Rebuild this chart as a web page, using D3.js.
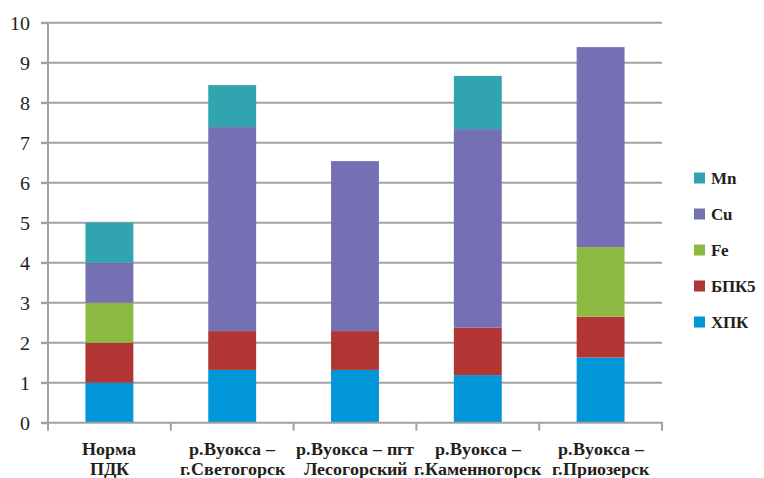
<!DOCTYPE html>
<html>
<head>
<meta charset="utf-8">
<script src="https://cdn.jsdelivr.net/npm/d3@7"></script>
<style>
  @font-face { font-family: "ChartSerif"; font-weight: normal; src: local("Liberation Serif"), local("LiberationSerif"), local("Times New Roman"); }
  @font-face { font-family: "ChartSerif"; font-weight: bold; src: local("Liberation Serif Bold"), local("LiberationSerif-Bold"), local("Times New Roman Bold"); }
</style>
</head>
<body style="margin:0">
<svg id="chart" width="764" height="478"></svg>
<script>
// Sites along the river (two-line labels)
const categories = ["Норма ПДК", "р.Вуокса – г.Светогорск", "р.Вуокса – пгт Лесогорский", "р.Вуокса – г.Каменногорск", "р.Вуокса – г.Приозерск"];
const categoryLines = [
  ["Норма", "ПДК"],
  ["р.Вуокса –", "г.Светогорск"],
  ["р.Вуокса – пгт", "Лесогорский"],
  ["р.Вуокса –", "г.Каменногорск"],
  ["р.Вуокса –", "г.Приозерск"]
];
// Stack order, bottom to top
const seriesNames = ["ХПК", "БПК5", "Fe", "Cu", "Mn"];
const hpk  = [1.00, 1.32, 1.32, 1.19, 1.63];
const bpk5 = [1.00, 0.97, 0.97, 1.19, 1.02];
const fe   = [1.00, 0.00, 0.00, 0.00, 1.74];
const cu   = [1.00, 5.10, 4.25, 4.96, 5.00];
const mn   = [1.00, 1.05, 0.00, 1.33, 0.00];
const yTicks = [0, 1, 2, 3, 4, 5, 6, 7, 8, 9, 10];
const colors = ["#0096d7", "#b03533", "#8bb942", "#7570b3", "#31a4b0"];

const textColor = "#231f20";
const serifFont = '"ChartSerif", "Liberation Serif", "Times New Roman", Tinos, serif';

const rows = categories.map((c, i) => ({
  cat: c, "ХПК": hpk[i], "БПК5": bpk5[i], "Fe": fe[i], "Cu": cu[i], "Mn": mn[i]
}));

const svg = d3.select("#chart");
const plotLeft = 48, plotRight = 662, plotTop = 22.7, plotBottom = 422.7;

const x = d3.scaleBand().domain(categories).range([plotLeft, plotRight]).paddingInner(0.61).paddingOuter(0.305);
const xOuter = d3.scaleBand().domain(categories).range([plotLeft, plotRight]);
const y = d3.scaleLinear().domain([0, 10]).range([plotBottom, plotTop]);

const gridColor = "#a2a2a4";

// Horizontal gridlines
svg.append("g").selectAll("line").data(yTicks.filter(d => d > 0)).join("line")
  .attr("x1", plotLeft - 7).attr("x2", plotRight)
  .attr("y1", d => y(d)).attr("y2", d => y(d))
  .attr("stroke", gridColor).attr("stroke-width", 2);

// Y axis
const yAxis = svg.append("g").attr("transform", `translate(${plotLeft},0)`)
  .call(d3.axisLeft(y).tickValues(yTicks).tickSize(7).tickPadding(11));
yAxis.attr("font-family", null).attr("font-size", null);
yAxis.select(".domain").attr("stroke", gridColor).attr("stroke-width", 2)
  .attr("d", `M0,${plotTop}V${plotBottom + 8}`);
yAxis.selectAll(".tick line").attr("stroke", gridColor).attr("stroke-width", 2);
yAxis.selectAll(".tick text")
  .style("font-family", serifFont).style("font-size", "20px").attr("fill", textColor);

// Stacked bars
const stack = d3.stack().keys(seriesNames);
const layers = stack(rows);
svg.append("g").selectAll("g").data(layers).join("g")
  .attr("fill", (d, i) => colors[i])
  .selectAll("rect").data(d => d).join("rect")
  .attr("x", d => x(d.data.cat))
  .attr("width", x.bandwidth())
  .attr("y", d => y(d[1]))
  .attr("height", d => y(d[0]) - y(d[1]));

// X axis line with category boundary ticks
svg.append("line").attr("x1", plotLeft - 7).attr("x2", plotRight + 1)
  .attr("y1", plotBottom).attr("y2", plotBottom)
  .attr("stroke", gridColor).attr("stroke-width", 2);
const bounds = categories.map(c => xOuter(c) + xOuter.bandwidth());
svg.append("g").selectAll("line").data(bounds).join("line")
  .attr("x1", d => d).attr("x2", d => d)
  .attr("y1", plotBottom).attr("y2", plotBottom + 8)
  .attr("stroke", gridColor).attr("stroke-width", 2);

// Category labels
const labelData = [];
categories.forEach((c, i) => {
  categoryLines[i].forEach((line, j) => labelData.push({ c, line, j }));
});
svg.selectAll("text.xlabel").data(labelData).join("text")
  .attr("class", "xlabel")
  .attr("x", d => xOuter(d.c) + xOuter.bandwidth() / 2)
  .attr("y", d => 455 + d.j * 20)
  .attr("text-anchor", "middle").attr("fill", textColor)
  .style("font-family", serifFont).style("font-weight", "bold").style("font-size", "18px")
  .text(d => d.line);

// Legend (top to bottom: Mn ... ХПК)
const legendItems = seriesNames.map((n, i) => ({ name: n, color: colors[i] })).reverse();
svg.selectAll("rect.key").data(legendItems).join("rect")
  .attr("class", "key")
  .attr("x", 694).attr("y", (d, i) => 178 + i * 36 - 5.5)
  .attr("width", 11).attr("height", 11).attr("fill", d => d.color);
svg.selectAll("text.key").data(legendItems).join("text")
  .attr("class", "key")
  .attr("x", 711).attr("y", (d, i) => 178 + i * 36 + 6).attr("fill", textColor)
  .style("font-family", serifFont).style("font-weight", "bold").style("font-size", "17px")
  .text(d => d.name);
</script>
</body>
</html>
